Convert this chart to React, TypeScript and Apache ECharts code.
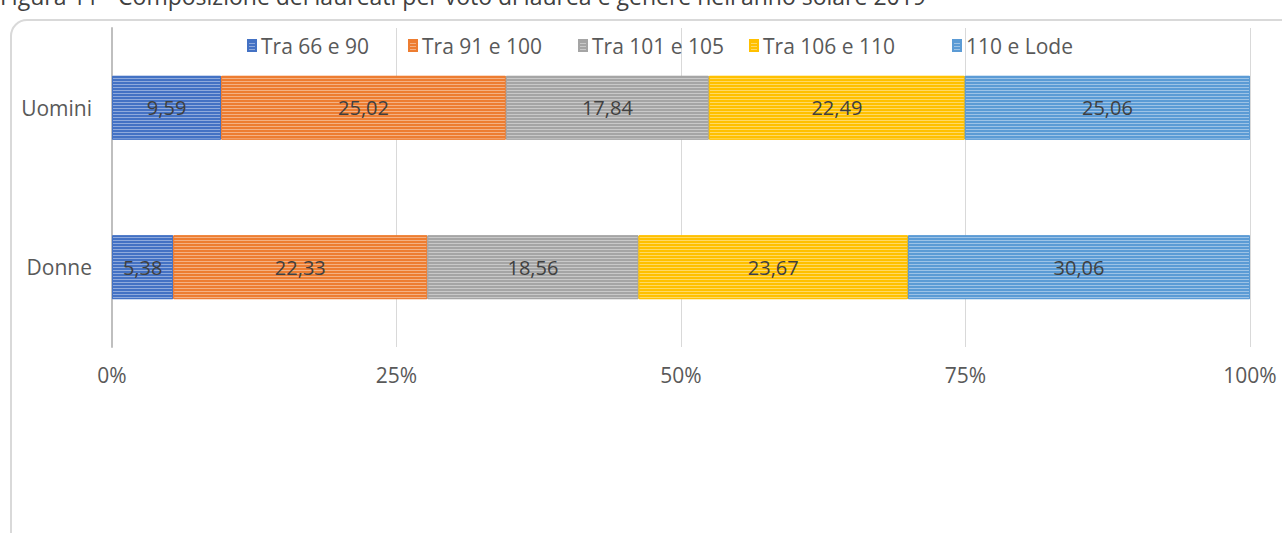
import React, { useEffect, useRef } from "react";
import * as echarts from "echarts";

const categories = ["Uomini", "Donne"];
const seriesNames = ["Tra 66 e 90", "Tra 91 e 100", "Tra 101 e 105", "Tra 106 e 110", "110 e Lode"];
const seriesColors = ["#4472C4", "#ED7D31", "#A5A5A5", "#FFC000", "#5B9BD5"];
const tra66e90 = [9.59, 5.38];
const tra91e100 = [25.02, 22.33];
const tra101e105 = [17.84, 18.56];
const tra106e110 = [22.49, 23.67];
const lode110 = [25.06, 30.06];
const seriesValues = [tra66e90, tra91e100, tra101e105, tra106e110, lode110];
const xTicks = [0, 25, 50, 75, 100];
const title = "Figura 11 - Composizione dei laureati per voto di laurea e genere nell'anno solare 2019";
const legendLefts = [242, 403, 573, 744, 947];

const FONT = "'Open Sans', 'Noto Sans', sans-serif";

export default function App() {
  const ref = useRef<HTMLDivElement>(null);
  useEffect(() => {
    const chart = echarts.init(ref.current!, null, { renderer: "svg" });
    const option = {
      animation: false,
      backgroundColor: "#ffffff",
      textStyle: { fontFamily: FONT },
      graphic: [
        {
          type: "rect",
          z: -10,
          shape: { x: 11, y: 20, width: 1290, height: 540, r: 16 },
          style: { fill: "#ffffff", stroke: "#d9d9d9", lineWidth: 2 },
        },
        {
          type: "text",
          x: 0,
          y: -4,
          style: {
            text: title,
            fontSize: 23,
            fontFamily: FONT,
            fill: "#404040",
            verticalAlign: "middle",
          },
        },
      ],
      legend: seriesNames.map((n, i) => ({
        data: [n],
        left: legendLefts[i],
        top: 30,
        itemWidth: 8,
        itemHeight: 11,
        itemGap: 4,
        icon: "rect",
        textStyle: { color: "#595959", fontSize: 21, fontFamily: FONT },
      })),
      grid: { left: 112, right: 32, top: 28, bottom: 186, containLabel: false },
      xAxis: {
        type: "value",
        min: 0,
        max: 100,
        interval: 25,
        axisLine: { show: false },
        axisTick: { show: false },
        splitLine: { show: true, lineStyle: { color: "#d9d9d9", width: 1 } },
        axisLabel: {
          formatter: (v: number) => (xTicks.includes(v) ? v + "%" : ""),
          color: "#595959",
          fontSize: 21,
          margin: 17,
          fontFamily: FONT,
        },
      },
      yAxis: {
        type: "category",
        data: categories,
        inverse: true,
        axisLine: { show: true, lineStyle: { color: "#bfbfbf", width: 2 } },
        axisTick: { show: false },
        axisLabel: { color: "#595959", fontSize: 21, margin: 20, fontFamily: FONT },
      },
      series: seriesNames.map((n, i) => ({
        name: n,
        type: "bar",
        stack: "total",
        barCategoryGap: "60%",
        data: seriesValues[i],
        itemStyle: {
          color: seriesColors[i],
          borderColor: seriesColors[i],
          borderWidth: 1,
          decal: {
            symbol: "rect",
            symbolSize: 1,
            dashArrayX: [1, 0],
            dashArrayY: [1, 2],
            rotation: 0,
            color: "rgba(255,255,255,0.4)",
          },
        },
        label: {
          show: true,
          position: "inside",
          color: "#404040",
          fontSize: 20,
          fontFamily: FONT,
          formatter: (p: any) => Number(p.value).toFixed(2).replace(".", ","),
        },
      })),
    };
    chart.setOption(option as any);
    return () => chart.dispose();
  }, []);
  return (
    <div
      ref={ref}
      style={{ position: "fixed", left: 0, top: 0, width: 1282, height: 533 }}
    />
  );
}
